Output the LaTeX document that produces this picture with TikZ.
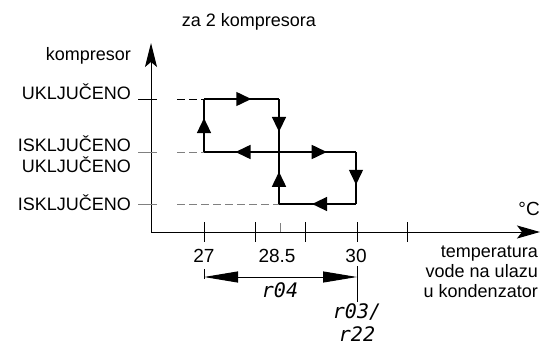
\documentclass[tikz,border=0pt]{standalone}
\usepackage{fontspec}
\setmainfont{Liberation Sans}
\newfontfamily\segfont{DejaVu Sans Mono}
\usetikzlibrary{arrows.meta, decorations.markings}

\begin{document}
\begin{tikzpicture}[x=1pt, y=-1pt,
    lab/.style={font=\fontsize{18}{20}\selectfont, inner sep=0pt},
    num/.style={font=\fontsize{19}{20}\selectfont, inner sep=0pt, anchor=base},
    seg/.style={font=\fontsize{20}{22}\segfont\itshape, inner sep=0pt},
    hyst/.style={line width=1.5pt},
    flow/.style={postaction={decorate}, decoration={markings,
        mark=at position #1 with {\arrow{Triangle[length=15pt,width=14pt]}}}},
    guide/.style={line width=0.8pt, dash pattern=on 8pt off 4pt},
    tk/.style={line width=0.9pt}]
    \useasboundingbox (0,0) rectangle (554,348);

    % axes
    \coordinate (O) at (151,232); \coordinate (ytop) at (151,43); \coordinate (xend) at (540,232);
    \draw[line width=1pt, {Stealth[length=24pt,width=12pt,inset=5pt]}-{Stealth[length=23pt,width=13pt,inset=5pt]}] (ytop) -- (O) -- (xend);
    \node[lab, anchor=base] (title) at (249,27) {za 2 kompresora};
    \node[lab, anchor=base east] (komp) at (131,60) {kompresor};
    \node[num, anchor=base east] (unit) at (540,215) {°C};

    % levels on the y axis
    \coordinate (on) at (151,99); \coordinate (mid) at (151,152); \coordinate (off) at (151,204);
    \node[lab, anchor=base east] (onlab) at (131,99) {UKLJUČENO};
    \node[lab, anchor=base east] (midlab1) at (131,151) {ISKLJUČENO};
    \node[lab, anchor=base east] (midlab2) at (131,172) {UKLJUČENO};
    \node[lab, anchor=base east] (offlab) at (131,210) {ISKLJUČENO};
    \draw[tk] ([xshift=-13pt]on) -- ([xshift=6pt]on);
    \draw[tk, gray] ([xshift=-13pt]mid) -- ([xshift=6pt]mid);
    \draw[tk, gray] ([xshift=-13pt]off) -- ([xshift=6pt]off);

    % ticks on the x axis
    \foreach \x in {204,255,305,357,407}
        \draw[tk] (\x,222) -- (\x,242);
    \draw[tk, gray] (280,223) -- (280,232);
    \node[num] (t27) at (204,262) {27};
    \node[num] (t285) at (277,262) {28.5};
    \node[num] (t30) at (356,262) {30};
    \node[lab, align=right, anchor=base east] (xlab) at (538,297.5) {temperatura\\vode na ulazu\\u kondenzator};

    % hysteresis loop
    \coordinate (a) at (204,99); \coordinate (b) at (279,99);
    \coordinate (c) at (204,152); \coordinate (d) at (279,152); \coordinate (e) at (356,152);
    \coordinate (f) at (279,204); \coordinate (g) at (356,204);
    \draw[guide] (177,99) -- (a);
    \draw[guide, gray] (177,152) -- (c);
    \draw[guide, gray] (177,204) -- (f);
    \draw[hyst, flow=0.64] (c) -- (a);
    \draw[hyst, flow=0.63] (a) -- (b);
    \draw[hyst, flow=0.62] (b) -- (d);
    \draw[hyst, flow=0.58] (d) -- (c);
    \draw[hyst, flow=0.62] (d) -- (e);
    \draw[hyst, flow=0.63] (e) -- (g);
    \draw[hyst, flow=0.57] (g) -- (f);
    \draw[hyst, flow=0.62] (f) -- (d);

    % parameters
    \draw[tk] (204,269) -- (204,279);
    \draw[tk] (357,266) -- (357,302);
    \draw[line width=1pt, {Triangle[length=34pt,width=11pt]}-{Triangle[length=34pt,width=11pt]}] (204,277) -- (357,277);
    \node[seg] (r04) at (280,290) {r04};
    \node[seg] (r03) at (357,312) {r03/};
    \node[seg] (r22) at (357,334) {r22};
\end{tikzpicture}
\end{document}
